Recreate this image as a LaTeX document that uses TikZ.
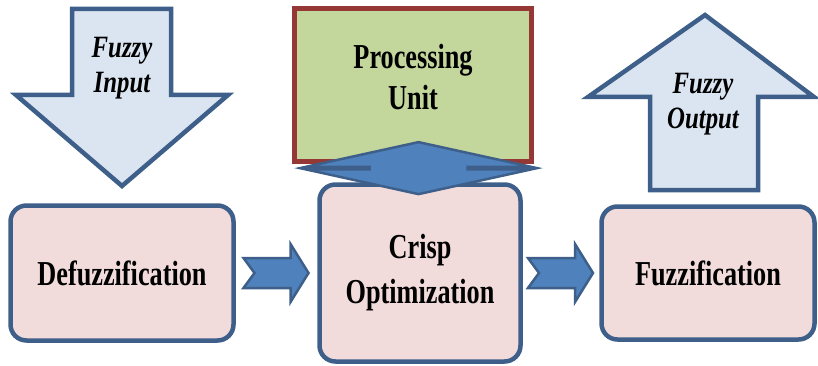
\documentclass[tikz,border=0pt]{standalone}
\usepackage{fontspec}
\newfontfamily\narrowserif[FakeStretch=0.75]{Liberation Serif}
\newfontfamily\narrowitalic[FakeStretch=0.8]{Liberation Serif}
\usetikzlibrary{calc}
\definecolor{boxpink}{HTML}{F2DCDB}
\definecolor{boxedge}{HTML}{3D5F8A}
\definecolor{unitgreen}{HTML}{C3D69B}
\definecolor{unitedge}{HTML}{953735}
\definecolor{ioblue}{HTML}{DBE5F1}
\definecolor{linkblue}{HTML}{4F81BD}

\begin{document}
\begin{tikzpicture}[x=1pt,y=-1pt,
	stage/.style={draw=boxedge,fill=boxpink,line width=4.5pt,rounded corners=16pt,align=center,
		font=\narrowserif\bfseries\fontsize{35}{45}\selectfont},
	unitbox/.style={draw=unitedge,fill=unitgreen,line width=5pt},
	unittext/.style={align=center,font=\narrowserif\bfseries\fontsize{35}{41}\selectfont},
	bigarrow/.style={draw=boxedge,fill=ioblue,line width=4.5pt,line join=miter},
	iotext/.style={align=center,font=\narrowitalic\bfseries\itshape\fontsize{31}{35}\selectfont},
	link/.style={draw=boxedge,fill=linkblue,line width=2.5pt,line join=miter}]
	\useasboundingbox (0,0) rectangle (818,366);
	\node[stage,minimum width=223pt,minimum height=135pt] (defuz) at (122,273) {Defuzzification};
	\node[stage,minimum width=201pt,minimum height=177pt] (crisp) at (420,273) {Crisp\\Optimization};
	\node[stage,minimum width=213pt,minimum height=133pt] (fuzz) at (708,273) {Fuzzification};
	\node[unitbox,minimum width=237pt,minimum height=153pt] (unit) at (413,85) {};
	\node[unittext] (unitlabel) at (413,77) {Processing\\Unit};

	\draw[bigarrow] (72,9) -- (171,9) -- (171,95) -- (228,95) -- (122,186) -- (16,95) -- (72,95) -- cycle;
	\node[iotext] (fin) at (122,68) {Fuzzy\\Input};
	\draw[bigarrow] (705,15) -- (814,97) -- (758,97) -- (758,190) -- (650,190) -- (650,97) -- (588,97) -- cycle;
	\node[iotext] (fout) at (703,104) {Fuzzy\\Output};

	\draw[link,shift={($(defuz.east)!0.5!(crisp.west)$)}] (-33,-15) -- (14,-15) -- (14,-29) -- (32,0) -- (14,29) -- (14,15) -- (-33,15) -- (-22,0) -- cycle;
	\draw[link,shift={($(crisp.east)!0.5!(fuzz.west)$)}] (-33,-15) -- (14,-15) -- (14,-29) -- (32,0) -- (14,29) -- (14,15) -- (-33,15) -- (-22,0) -- cycle;
	\draw[link,shift={($(unit.south)!0.5!(crisp.north)+(2,-5)$)}] (0,-26) -- (113,-1.2) -- (49,-1.2) -- (49,1.2) -- (113,1.2) -- (0,26) -- (-113,1.2) -- (-49,1.2) -- (-49,-1.2) -- (-113,-1.2) -- cycle;
\end{tikzpicture}
\end{document}
